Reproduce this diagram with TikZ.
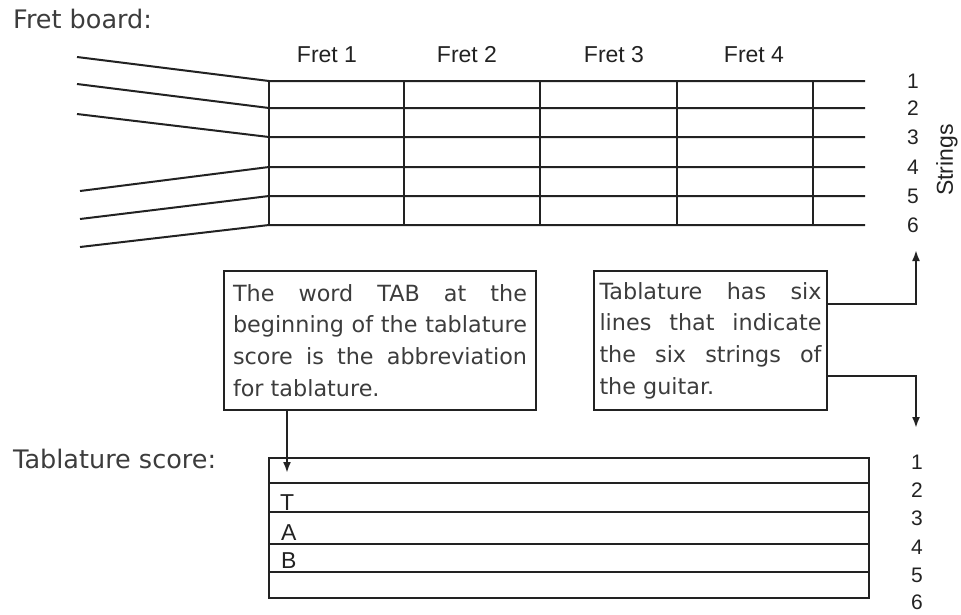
\documentclass[tikz,border=0pt]{standalone}
\usepackage{fontspec}
\usepackage{tikz}
\usetikzlibrary{arrows.meta}
\newfontfamily\notefont{DejaVu Sans}
\newfontfamily\labelfont{Liberation Sans}
\definecolor{textgray}{HTML}{3C3C3C}
\definecolor{linegray}{HTML}{222222}

\tikzset{
  ln/.style={draw=linegray, line width=2pt},
  heading/.style={anchor=base west, inner sep=0pt, text=textgray,
    font=\notefont\fontsize{25.5}{28}\selectfont},
  lbl/.style={inner sep=0pt, text=linegray, font=\labelfont\fontsize{23}{26}\selectfont},
  num/.style={inner sep=0pt, text=linegray, font=\labelfont\fontsize{21}{24}\selectfont},
  notebox/.style={ln, anchor=north west, align=justify, inner ysep=0pt,
    minimum height=139pt, text=textgray,
    font=\notefont\fontsize{22.3}{31.7}\selectfont},
  tip/.style={-{Latex[length=11pt, width=8pt]}}
}

\begin{document}
\begin{tikzpicture}[x=1pt, y=-1pt]
  \useasboundingbox (0,0) rectangle (961,614);

  % Headings
  \node[heading] (fbtitle) at (13,28) {Fret board:};
  \node[heading] (tstitle) at (13,468) {Tablature score:};

  % Fret board
  \foreach \i/\y/\fx/\fy in {1/81/77/57, 2/108/77/84, 3/137/77/114,
                             4/167/80/191, 5/196/80/219, 6/225/80/247} {
    \draw[ln] (\fx,\fy) -- (269,\y) -- (865,\y);
    \node[num] (s\i) at (913,\y) {\i};
  }
  \foreach \x in {269,404,540,677,813}
    \draw[ln] (\x,81) -- (\x,225);
  \foreach \n/\x in {1/327,2/467,3/614,4/754}
    \node[lbl, anchor=base] (fret\n) at (\x,62) {Fret \n};
  \node[lbl, rotate=90] (strings) at (947,160) {Strings};

  % Notes
  \node[notebox, text width=294pt, inner xsep=9pt] (tabnote) at (223,270)
    {\tolerance=10000 \hyphenpenalty=10000
     The word TAB at the\linebreak beginning of the tablature\linebreak
     score is the abbreviation\linebreak for tablature.};
  \node[notebox, text width=222pt, inner xsep=5.5pt] (sixnote) at (593,270)
    {\tolerance=10000 \hyphenpenalty=10000
     Tablature has six\linebreak lines that indicate\linebreak
     the six strings of\linebreak the guitar.};

  % Tablature score
  \node[ln, anchor=north west, inner sep=0pt, minimum width=600pt,
        minimum height=140pt] (tab) at (268,457) {};
  \foreach \y in {483,512,544,572}
    \draw[ln] (tab.west |- 0,\y) -- (tab.east |- 0,\y);
  \node[lbl, anchor=base west] (letT) at (280,510) {T};
  \node[lbl, anchor=base west] (letA) at (281,540) {A};
  \node[lbl, anchor=base west] (letB) at (281,568) {B};
  \foreach \i/\y in {1/462,2/490,3/518,4/547,5/575,6/602}
    \node[num] (t\i) at (917,\y) {\i};

  % Arrows
  \coordinate (tabtip) at (287,473);
  \coordinate (uptip) at (916,250);
  \coordinate (downtip) at (916,428);
  \draw[ln, tip] (tabnote.south -| tabtip) -- (tabtip);
  \draw[ln, tip] (sixnote.north east) ++(0,34) -| (uptip);
  \draw[ln, tip] (sixnote.north east) ++(0,106) -| (downtip);
\end{tikzpicture}
\end{document}
